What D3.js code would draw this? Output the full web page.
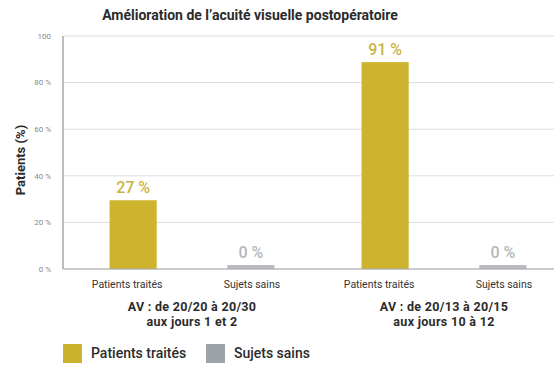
<!DOCTYPE html>
<html>
<head>
<meta charset="utf-8">
<script src="https://cdn.jsdelivr.net/npm/d3@7"></script>
<style>
  body { margin: 0; background: #fff; font-family: Roboto, "Noto Sans", sans-serif; }
</style>
</head>
<body>
<div id="chart"></div>
<script>
/**
 * DATA
 * */
const groups = ["AV : de 20/20 à 20/30|aux jours 1 et 2", "AV : de 20/13 à 20/15|aux jours 10 à 12"];
const series = ["Patients traités", "Sujets sains"];
// bar heights as drawn in the picture (%), per group, per series
const treatedBars = [29.5, 88.8];
const healthyBars = [1.7, 1.7];
// value labels shown above the bars
const treatedLabels = ["27 %", "91 %"];
const healthyLabels = ["0 %", "0 %"];
const yTicks = [0, 20, 40, 60, 80, 100];
const yTickLabels = ["0 %", "20 %", "40 %", "60 %", "80 %", "100"];

const colors = { "Patients traités": "#cdb32e", "Sujets sains": "#b9bcc0" };
const labelColors = { "Patients traités": "#c9b443", "Sujets sains": "#b4b8bc" };
const legendColors = { "Patients traités": "#cbb22c", "Sujets sains": "#9ea3a7" };

/**
 * CONSTANTS
 * */
const width = 554, height = 373;
const plot = { left: 63, right: 570, top: 36, bottom: 269 };

const svg = d3.select("#chart").append("svg")
  .attr("width", width)
  .attr("height", height);

const rows = groups.map((g, i) => ({
  group: g,
  bars: [
    { key: series[0], value: treatedBars[i], label: treatedLabels[i] },
    { key: series[1], value: healthyBars[i], label: healthyLabels[i] },
  ]
}));

// scales
const y = d3.scaleLinear().domain([0, 100]).range([plot.bottom, plot.top]);
const x0 = d3.scaleBand().domain(groups).range([66, plot.right]);
const x1 = d3.scaleBand().domain(series).range([0, x0.bandwidth()])
  .paddingInner(0.6).paddingOuter(0.37);

// gridlines
svg.append("g")
  .selectAll("line")
  .data(yTicks)
  .join("line")
  .attr("x1", plot.left)
  .attr("x2", plot.right)
  .attr("y1", d => y(d))
  .attr("y2", d => y(d))
  .attr("stroke", "#dedede")
  .attr("stroke-width", 1);

// y tick labels
svg.append("g")
  .selectAll("text")
  .data(yTicks)
  .join("text")
  .attr("x", 51)
  .attr("y", d => y(d))
  .attr("dy", "0.35em")
  .attr("text-anchor", "end")
  .attr("font-size", 8)
  .attr("fill", "#8a8a8a")
  .text((d, i) => yTickLabels[i]);

// bars
const gGroups = svg.append("g")
  .selectAll("g")
  .data(rows)
  .join("g")
  .attr("transform", d => `translate(${x0(d.group)},0)`);

gGroups.selectAll("rect")
  .data(d => d.bars)
  .join("rect")
  .attr("x", d => x1(d.key))
  .attr("y", d => y(d.value))
  .attr("width", x1.bandwidth())
  .attr("height", d => y(0) - y(d.value))
  .attr("fill", d => colors[d.key]);

// value labels
gGroups.selectAll("text.value")
  .data(d => d.bars)
  .join("text")
  .attr("class", "value")
  .attr("x", d => x1(d.key) + x1.bandwidth() / 2)
  .attr("y", d => y(d.value) - 7.5)
  .attr("text-anchor", "middle")
  .attr("font-size", 16)
  .attr("font-weight", 500)
  .attr("fill", d => labelColors[d.key])
  .text(d => d.label);

// category labels
gGroups.selectAll("text.cat")
  .data(d => d.bars)
  .join("text")
  .attr("class", "cat")
  .attr("x", d => x1(d.key) + x1.bandwidth() / 2 + (d.key === series[0] ? -6 : 1))
  .attr("y", 288)
  .attr("text-anchor", "middle")
  .attr("font-size", 10.5)
  .attr("fill", "#333")
  .text(d => d.key);

// group labels (two lines)
gGroups.append("text")
  .attr("text-anchor", "middle")
  .attr("font-size", 12.5)
  .attr("font-weight", 700)
  .attr("letter-spacing", 0.3)
  .attr("fill", "#2b2b2b")
  .selectAll("tspan")
  .data(d => d.group.split("|"))
  .join("tspan")
  .attr("x", x0.bandwidth() / 2)
  .attr("y", (d, i) => 311 + i * 15)
  .text(d => d);

// axes lines
svg.append("line")
  .attr("x1", plot.left).attr("x2", plot.left)
  .attr("y1", plot.top).attr("y2", plot.bottom)
  .attr("stroke", "#a8a8a8").attr("stroke-width", 1.5);
svg.append("line")
  .attr("x1", plot.left).attr("x2", plot.right)
  .attr("y1", plot.bottom).attr("y2", plot.bottom)
  .attr("stroke", "#a8a8a8").attr("stroke-width", 1.2);

// title
svg.append("text")
  .attr("x", 250)
  .attr("y", 20)
  .attr("text-anchor", "middle")
  .attr("font-size", 14)
  .attr("font-weight", 700)
  .attr("fill", "#2b2b2b")
  .text("Amélioration de l’acuité visuelle postopératoire");

// y axis title
svg.append("text")
  .attr("transform", "translate(25,160) rotate(-90)")
  .attr("text-anchor", "middle")
  .attr("font-size", 13)
  .attr("font-weight", 700)
  .attr("fill", "#2b2b2b")
  .text("Patients (%)");

// legend
const legendX = [63, 206];
const legend = svg.append("g")
  .selectAll("g")
  .data(series)
  .join("g")
  .attr("transform", (d, i) => `translate(${legendX[i]},344)`);

legend.append("rect")
  .attr("width", 19)
  .attr("height", 19)
  .attr("fill", d => legendColors[d]);

legend.append("text")
  .attr("x", 28)
  .attr("y", 9.5)
  .attr("dy", "0.35em")
  .attr("font-size", 14)
  .attr("font-weight", 500)
  .attr("fill", "#2b2b2b")
  .text(d => d);
</script>
</body>
</html>
